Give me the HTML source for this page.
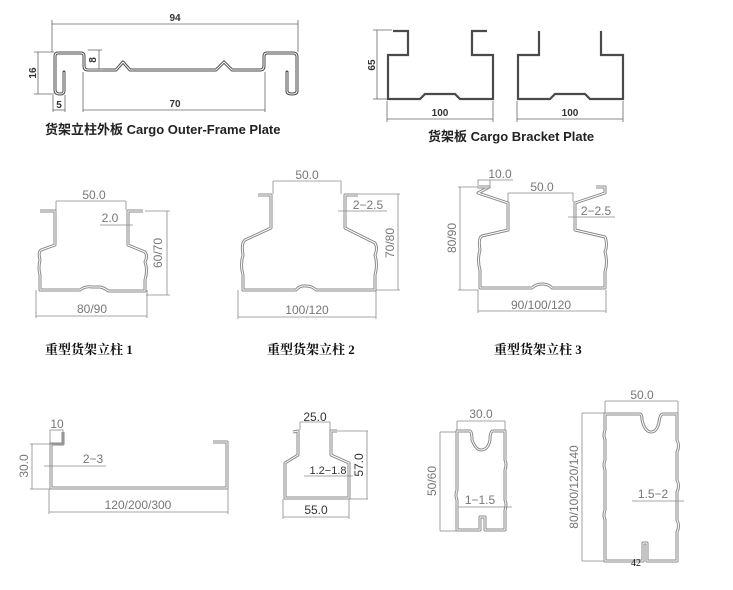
<!DOCTYPE html>
<html><head><meta charset="utf-8"><style>
html,body{margin:0;padding:0;background:#fff}
svg{display:block}
.p{fill:none;stroke:#4a4a4a;stroke-width:3;stroke-linejoin:round;stroke-linecap:round}
.pb{fill:none;stroke:#4a4a4a;stroke-width:2.2;stroke-linejoin:miter}
.pi{fill:none;stroke:#fff;stroke-width:1;stroke-linejoin:round}
.g{fill:none;stroke:#8a8a8a;stroke-width:3;stroke-linejoin:round}
.d{fill:none;stroke:#666;stroke-width:0.8}
.dg{fill:none;stroke:#8a8a8a;stroke-width:0.8}
.t{font-family:"Liberation Sans",sans-serif;font-size:10px;font-weight:bold;fill:#333}
.c{font-family:"Liberation Sans","Noto Sans CJK SC",sans-serif;font-size:13px;font-weight:bold;fill:#222}
.cad{font-family:"Liberation Sans",sans-serif;font-size:12px;fill:#777}
.cap{font-family:"Liberation Serif","Noto Serif CJK SC",serif;font-size:13px;font-weight:bold;fill:#111}
</style></head><body>
<svg width="733" height="590" viewBox="0 0 733 590" xmlns="http://www.w3.org/2000/svg">
<defs>
<path id="f1" d="M64,72 V91 Q64,94 60,94 Q55,94 55,90 V56 Q55,53 58,53 H81 Q84,53 84,56 V66 Q84,70 88,70 H116 L123,62 L130,70 H216 L224,62 L232,70 H260 Q264,70 264,66 V56 Q264,53 267,53 H293 Q297,53 297,57 V91 Q297,94 292,94 Q287,94 287,91 V72"/>
<path id="b1" d="M393,31 H408 V55 H388 V99 H420 L425,94 H455 L460,99 H493 V55 H472 V31 H487"/>
<path id="b2" d="M539,31 V55 H518 V99 H550 L555,94 H585 L590,99 H623 V55 H601 V31"/>
<path id="m1" d="M40,211 H55 V245 L41,250 Q38,252 40,260 Q38,268 40,275 V290 H80 Q85,286 92,287 H100 Q105,288 108,291 H145 V280 Q148,270 145,262 Q148,256 145,252 L128,245 V211 H143"/>
<path id="m2" d="M258,195 H271 V228 L245,240 Q241,243 243,255 Q240,265 243,275 V290 H296 Q300,285 306,286 Q312,286 316,290 H375 V275 Q378,265 375,255 Q378,248 375,243 L345,228 V195 H358"/>
<path id="m3" d="M479,187 H489 L478,193 L508,203 V230 L482,236 Q478,238 480,250 Q477,260 480,270 V288 H532 Q536,284 542,284 Q549,284 552,288 H605 V272 Q608,262 605,252 Q608,244 605,237 L575,230 V203 L605,193 L605,187 H596"/>
<path id="a1" d="M63,432 V444 H51 V488 H227 V442 H213"/>
<path id="a2" d="M293,432 L298,431 V455 L285,463 V498 H349 V463 L331,455 V431 H337"/>
<path id="a3" d="M457,431 H470 Q472,432 472,440 Q476,450 481,450 Q488,450 490,440 Q490,431 493,431 H505 V460 Q507,465 505,470 V500 Q507,505 505,510 V530 H485 V517 H480 V530 H457 V500 Q455,495 457,490 Z"/>
<path id="a4" d="M605,414 H640 Q642,414 642,420 Q645,432 651,432 Q657,432 659,422 Q660,414 663,414 H677 V440 Q680,446 677,452 V480 Q680,486 677,492 V520 Q680,526 677,532 V561 H647 V543 H643 V561 H605 V520 Q603,515 605,510 V470 Q603,465 605,460 V440 Q603,435 605,430 Z"/>
</defs>
<use href="#f1" class="p"/><use href="#f1" class="pi"/>
<g class="d">
<line x1="52" y1="20" x2="52" y2="52"/><line x1="298" y1="20" x2="298" y2="52"/>
<line x1="52" y1="24" x2="298" y2="24"/>
<line x1="34" y1="52" x2="54" y2="52"/><line x1="34" y1="94" x2="54" y2="94"/><line x1="38" y1="52" x2="38" y2="94"/>
<line x1="88" y1="50" x2="102" y2="50"/><line x1="88" y1="69" x2="102" y2="69"/><line x1="99" y1="50" x2="99" y2="69"/>
<line x1="53" y1="95" x2="53" y2="112"/><line x1="65" y1="95" x2="65" y2="112"/><line x1="53" y1="110" x2="65" y2="110"/>
<line x1="83" y1="72" x2="83" y2="112"/><line x1="265" y1="72" x2="265" y2="112"/><line x1="83" y1="110" x2="265" y2="110"/>
</g>
<text class="t" x="175" y="21" text-anchor="middle">94</text>
<text class="t" transform="translate(36,73) rotate(-90)" text-anchor="middle">16</text>
<text class="t" transform="translate(96,60) rotate(-90)" text-anchor="middle">8</text>
<text class="t" x="59" y="108" text-anchor="middle">5</text>
<text class="t" x="175" y="107" text-anchor="middle">70</text>
<text class="c" x="45" y="134">货架立柱外板  Cargo Outer-Frame Plate</text>
<use href="#b1" class="pb"/><use href="#b2" class="pb"/>
<g class="d">
<line x1="373" y1="30" x2="392" y2="30"/><line x1="373" y1="99" x2="387" y2="99"/><line x1="377" y1="30" x2="377" y2="99"/>
<line x1="387" y1="101" x2="387" y2="122"/><line x1="493" y1="101" x2="493" y2="122"/><line x1="387" y1="119" x2="493" y2="119"/>
<line x1="517" y1="101" x2="517" y2="122"/><line x1="623" y1="101" x2="623" y2="122"/><line x1="517" y1="119" x2="623" y2="119"/>
</g>
<text class="t" transform="translate(375,65) rotate(-90)" text-anchor="middle">65</text>
<text class="t" x="440" y="116" text-anchor="middle">100</text>
<text class="t" x="570" y="116" text-anchor="middle">100</text>
<text class="c" x="428" y="141">货架板  Cargo Bracket Plate</text>
<use href="#m1" class="g"/><use href="#m1" class="pi"/>
<use href="#m2" class="g"/><use href="#m2" class="pi"/>
<use href="#m3" class="g"/><use href="#m3" class="pi"/>
<g class="dg">
<line x1="56" y1="201" x2="126" y2="201"/><line x1="56" y1="201" x2="56" y2="210"/><line x1="126" y1="201" x2="126" y2="210"/>
<line x1="100" y1="225" x2="133" y2="225"/>
<line x1="145" y1="211" x2="170" y2="211"/><line x1="146" y1="295" x2="170" y2="295"/><line x1="167" y1="211" x2="167" y2="295"/>
<line x1="36" y1="290" x2="36" y2="318"/><line x1="147" y1="290" x2="147" y2="318"/><line x1="36" y1="316" x2="147" y2="316"/>
<line x1="273" y1="181" x2="341" y2="181"/><line x1="273" y1="181" x2="273" y2="194"/><line x1="341" y1="181" x2="341" y2="194"/>
<line x1="338" y1="211" x2="387" y2="211"/>
<line x1="345" y1="194" x2="400" y2="194"/><line x1="376" y1="290" x2="400" y2="290"/><line x1="398" y1="194" x2="398" y2="290"/>
<line x1="238" y1="290" x2="238" y2="319"/><line x1="376" y1="290" x2="376" y2="319"/><line x1="238" y1="317" x2="376" y2="317"/>
<rect x="478" y="180" width="12" height="8"/><line x1="490" y1="180" x2="513" y2="180"/>
<line x1="508" y1="193" x2="573" y2="193"/><line x1="508" y1="193" x2="508" y2="202"/><line x1="573" y1="193" x2="573" y2="202"/>
<line x1="568" y1="217" x2="615" y2="217"/>
<line x1="458" y1="187" x2="478" y2="187"/><line x1="458" y1="290" x2="478" y2="290"/><line x1="460" y1="187" x2="460" y2="290"/>
<line x1="478" y1="290" x2="478" y2="313"/><line x1="606" y1="290" x2="606" y2="313"/><line x1="478" y1="311" x2="606" y2="311"/>
</g>
<text class="cad" x="94" y="199" text-anchor="middle">50.0</text>
<text class="cad" x="110" y="222" text-anchor="middle">2.0</text>
<text class="cad" transform="translate(162,253) rotate(-90)" text-anchor="middle">60/70</text>
<text class="cad" x="92" y="313" text-anchor="middle">80/90</text>
<text class="cad" x="307" y="179" text-anchor="middle">50.0</text>
<text class="cad" x="368" y="209" text-anchor="middle">2−2.5</text>
<text class="cad" transform="translate(394,243) rotate(-90)" text-anchor="middle">70/80</text>
<text class="cad" x="307" y="314" text-anchor="middle">100/120</text>
<text class="cad" x="500" y="178" text-anchor="middle">10.0</text>
<text class="cad" x="542" y="191" text-anchor="middle">50.0</text>
<text class="cad" x="596" y="215" text-anchor="middle">2−2.5</text>
<text class="cad" transform="translate(456,238) rotate(-90)" text-anchor="middle">80/90</text>
<text class="cad" x="541" y="309" text-anchor="middle">90/100/120</text>
<text class="cap" x="45" y="354">重型货架立柱 1</text>
<text class="cap" x="267" y="354">重型货架立柱 2</text>
<text class="cap" x="494" y="354">重型货架立柱 3</text>
<use href="#a1" class="g"/><use href="#a1" class="pi"/>
<use href="#a2" class="g"/><use href="#a2" class="pi"/>
<use href="#a3" class="g"/><use href="#a3" class="pi"/>
<use href="#a4" class="g"/><use href="#a4" class="pi"/>
<g class="dg">
<rect x="50" y="430" width="13" height="14"/>
<line x1="30" y1="444" x2="50" y2="444"/><line x1="30" y1="489" x2="50" y2="489"/><line x1="32" y1="444" x2="32" y2="489"/>
<line x1="44" y1="466" x2="106" y2="466"/>
<line x1="49" y1="489" x2="49" y2="514"/><line x1="228" y1="489" x2="228" y2="514"/><line x1="49" y1="512" x2="228" y2="512"/>
<line x1="300" y1="422" x2="330" y2="422"/><line x1="300" y1="422" x2="300" y2="430"/><line x1="330" y1="422" x2="330" y2="430"/>
<line x1="337" y1="431" x2="368" y2="431"/><line x1="350" y1="499" x2="368" y2="499"/><line x1="367" y1="431" x2="367" y2="499"/>
<line x1="304" y1="476" x2="353" y2="476"/>
<line x1="283" y1="499" x2="283" y2="519"/><line x1="349" y1="499" x2="349" y2="519"/><line x1="283" y1="517" x2="349" y2="517"/>
<line x1="457" y1="421" x2="505" y2="421"/><line x1="457" y1="421" x2="457" y2="430"/><line x1="505" y1="421" x2="505" y2="430"/>
<line x1="440" y1="432" x2="456" y2="432"/><line x1="440" y1="531" x2="456" y2="531"/><line x1="440" y1="432" x2="440" y2="531"/>
<line x1="458" y1="507" x2="512" y2="507"/>
<line x1="605" y1="401" x2="678" y2="401"/><line x1="605" y1="401" x2="605" y2="413"/><line x1="678" y1="401" x2="678" y2="413"/>
<line x1="582" y1="413" x2="604" y2="413"/><line x1="582" y1="561" x2="604" y2="561"/><line x1="582" y1="413" x2="582" y2="561"/>
<line x1="632" y1="501" x2="684" y2="501"/>
</g>
<text class="cad" x="57" y="428" text-anchor="middle">10</text>
<text class="cad" transform="translate(28,466) rotate(-90)" text-anchor="middle">30.0</text>
<text class="cad" x="93" y="463" text-anchor="middle">2−3</text>
<text class="cad" x="138" y="509" text-anchor="middle">120/200/300</text>
<text class="cad" x="315" y="421" text-anchor="middle" style="fill:#333">25.0</text>
<text class="cad" transform="translate(363,465) rotate(-90)" text-anchor="middle" style="fill:#333">57.0</text>
<text class="cad" x="328" y="474" text-anchor="middle" style="fill:#333;font-size:11px">1.2−1.8</text>
<text class="cad" x="316" y="514" text-anchor="middle" style="fill:#333">55.0</text>
<text class="cad" x="481" y="418" text-anchor="middle">30.0</text>
<text class="cad" transform="translate(436,481) rotate(-90)" text-anchor="middle">50/60</text>
<text class="cad" x="480" y="504" text-anchor="middle">1−1.5</text>
<text class="cad" x="642" y="399" text-anchor="middle">50.0</text>
<text class="cad" transform="translate(578,487) rotate(-90)" text-anchor="middle">80/100/120/140</text>
<text class="cad" x="653" y="498" text-anchor="middle">1.5−2</text>
<text x="636" y="566" text-anchor="middle" style="font-family:'Liberation Serif',serif;font-size:10px;fill:#111">42</text>
</svg>
</body></html>
